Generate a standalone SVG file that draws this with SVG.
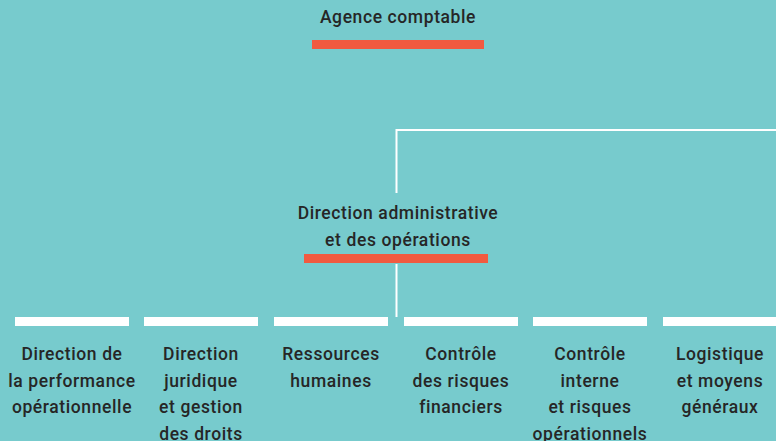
<svg xmlns="http://www.w3.org/2000/svg" width="776" height="441" viewBox="0 0 776 441">
<style>
text{font-family:Roboto,"Liberation Sans",Arial,sans-serif;font-weight:500;font-size:17.5px;fill:#262626;text-anchor:middle;letter-spacing:0.6px}
.ob{fill:#F15A40}
.wb{fill:#FFFFFF}
.conn{stroke:#FFFFFF;stroke-width:2;fill:none}
</style>
<rect width="776" height="441" fill="#77CBCD"/>
<g id="connectors">
<path class="conn" d="M396.5 193V130H776"/>
<path class="conn" d="M396.5 264V317"/>
</g>
<g id="agence">
<text x="398" y="23">Agence comptable</text>
<rect class="ob" x="312" y="40" width="172" height="9"/>
</g>
<g id="dao">
<text x="398" y="219">Direction administrative</text>
<text x="398" y="246">et des opérations</text>
<rect class="ob" x="304" y="254" width="184" height="9"/>
</g>
<g id="n1">
<rect class="wb" x="15" y="317" width="114" height="9"/>
<text x="72" y="360">Direction de</text>
<text x="72" y="386.7">la performance</text>
<text x="72" y="413.3">opérationnelle</text>
</g>
<g id="n2">
<rect class="wb" x="144" y="317" width="114" height="9"/>
<text x="201" y="360">Direction</text>
<text x="201" y="386.7">juridique</text>
<text x="201" y="413.3">et gestion</text>
<text x="201" y="440">des droits</text>
</g>
<g id="n3">
<rect class="wb" x="274" y="317" width="114" height="9"/>
<text x="331" y="360">Ressources</text>
<text x="331" y="386.7">humaines</text>
</g>
<g id="n4">
<rect class="wb" x="404" y="317" width="114" height="9"/>
<text x="461" y="360">Contrôle</text>
<text x="461" y="386.7">des risques</text>
<text x="461" y="413.3">financiers</text>
</g>
<g id="n5">
<rect class="wb" x="533" y="317" width="114" height="9"/>
<text x="590" y="360">Contrôle</text>
<text x="590" y="386.7">interne</text>
<text x="590" y="413.3">et risques</text>
<text x="590" y="440">opérationnels</text>
</g>
<g id="n6">
<rect class="wb" x="663" y="317" width="114" height="9"/>
<text x="720" y="360">Logistique</text>
<text x="720" y="386.7">et moyens</text>
<text x="720" y="413.3">généraux</text>
</g>
</svg>
